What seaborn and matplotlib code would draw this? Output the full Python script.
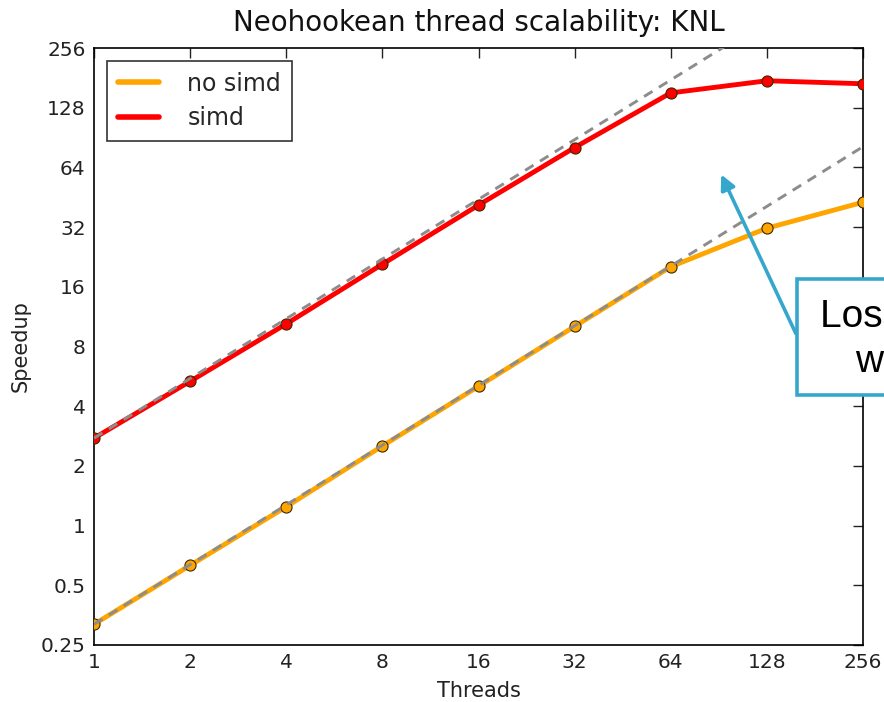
import numpy as np
import pandas as pd
import seaborn as sns
import matplotlib
matplotlib.use("Agg")
import matplotlib.pyplot as plt
from matplotlib.lines import Line2D
from matplotlib.patches import Rectangle, FancyArrowPatch

threads = [1, 2, 4, 8, 16, 32, 64, 128, 256]
no_simd = [0.318, 0.63, 1.245, 2.52, 5.04, 10.1, 20.2, 31.6, 42.7]
simd = [2.76, 5.34, 10.4, 20.8, 41.3, 80.6, 152, 175, 169]
series_names = ["no simd", "simd"]
series_colors = ["#FFA500", "#FF0000"]
x_ticks = [1, 2, 4, 8, 16, 32, 64, 128, 256]
x_labels = ["1", "2", "4", "8", "16", "32", "64", "128", "256"]
y_ticks = [0.25, 0.5, 1, 2, 4, 8, 16, 32, 64, 128, 256]
y_labels = ["0.25", "0.5", "1", "2", "4", "8", "16", "32", "64", "128", "256"]

df = pd.DataFrame({
    "Threads": threads * 2,
    "Speedup": no_simd + simd,
    "series": [series_names[0]] * len(threads) + [series_names[1]] * len(threads),
})

sns.set_style("white")
plt.rcParams["font.family"] = ["DejaVu Sans"]

fig = plt.figure(figsize=(8.84, 7.02), dpi=100)
ax = fig.add_axes([94 / 884, 1 - 645 / 702, (863 - 94) / 884, (645 - 48) / 702])

palette = dict(zip(series_names, series_colors))
sns.lineplot(data=df, x="Threads", y="Speedup", hue="series", palette=palette,
             linewidth=3.5, marker="o", markersize=8, markeredgecolor="#3a2a00",
             markeredgewidth=0.8, ax=ax, legend=False, zorder=3)

# ideal linear scaling from the single-thread value
xs = np.array([threads[0], threads[-1]], dtype=float)
for base in (no_simd[0], simd[0]):
    ax.plot(xs, base * xs / threads[0], ls=(0, (3.4, 2.6)), color="#8c8c8c",
            lw=2.1, zorder=4)

ax.set_xscale("log", base=2)
ax.set_yscale("log", base=2)
ax.set_xlim(1, 256)
ax.set_ylim(0.25, 256)
ax.set_xticks(x_ticks)
ax.set_xticklabels(x_labels)
ax.set_yticks(y_ticks)
ax.set_yticklabels(y_labels)
ax.minorticks_off()
ax.tick_params(direction="in", length=7, width=1, top=True, right=True,
               labelsize=14.5, colors="#222222", pad=6)
for s in ax.spines.values():
    s.set_color("black")
    s.set_linewidth(1.2)

ax.set_xlabel("Threads", fontsize=15, color="#222222", labelpad=6)
ax.set_ylabel("Speedup", fontsize=15, color="#222222", labelpad=7)
ax.set_title("Neohookean thread scalability: KNL", fontsize=20, color="#111111", pad=12)

handles = [Line2D([], [], color=c, lw=4) for c in series_colors]
leg = ax.legend(handles, series_names, loc="upper left", fontsize=17,
                frameon=True, fancybox=False, edgecolor="black",
                borderaxespad=0.55, handlelength=1.75, handletextpad=1.2,
                borderpad=0.45, labelspacing=0.45)
leg.get_frame().set_linewidth(1.2)

# callout box (extends past the figure edge)
blue = "#35a7cc"
W, H = 884.0, 702.0
box = Rectangle((797 / W, 1 - 395 / H), 300 / W, 116 / H, transform=fig.transFigure,
                facecolor="white", edgecolor=blue, linewidth=2.6, zorder=5)
fig.add_artist(box)
fig.text(820 / W, 1 - 327 / H, "Loss of scalability", fontsize=28,
         family=["Liberation Sans", "DejaVu Sans"], va="baseline", ha="left",
         color="black", zorder=6)
fig.text(855 / W, 1 - 372 / H, "with hyperthreads", fontsize=28,
         family=["Liberation Sans", "DejaVu Sans"], va="baseline", ha="left",
         color="black", zorder=6)
arrow = FancyArrowPatch((797 / W, 1 - 336 / H), (720 / W, 1 - 172 / H),
                        transform=fig.transFigure, arrowstyle="-|>",
                        mutation_scale=22, color=blue, linewidth=2.6, zorder=6)
fig.add_artist(arrow)

fig.savefig("out.png", dpi=100)
